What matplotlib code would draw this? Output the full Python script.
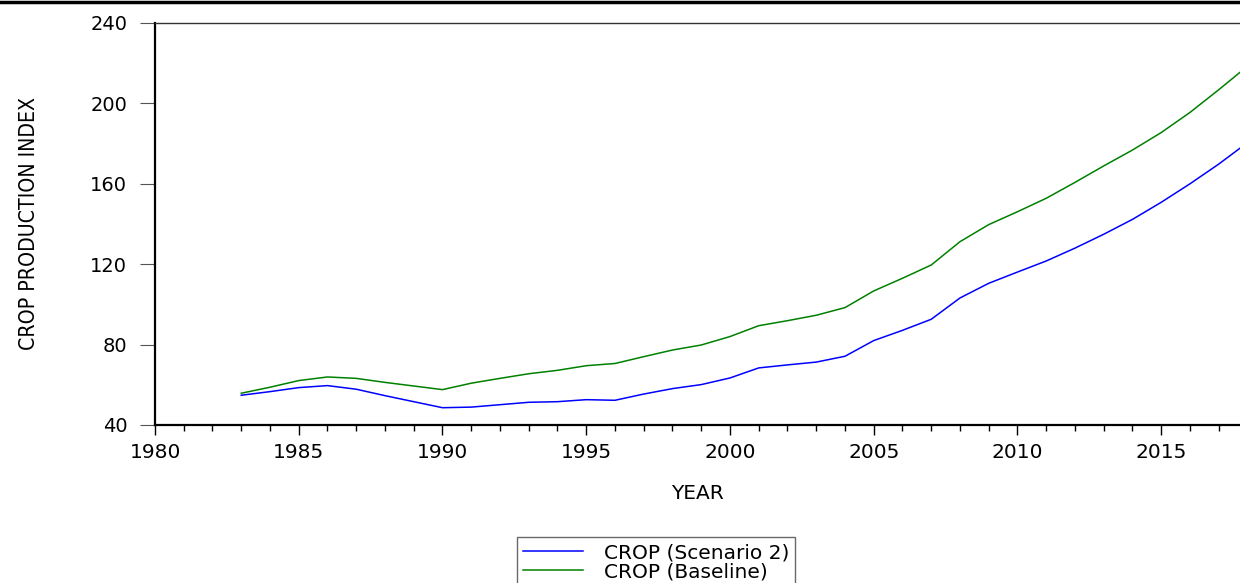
import matplotlib
matplotlib.use("Agg")
from matplotlib import pyplot as plt
from matplotlib.lines import Line2D
from matplotlib.ticker import MultipleLocator

years = list(range(1983, 2019))
scenario2 = [54.8, 56.6, 58.6, 59.6, 57.8, 54.6, 51.6, 48.6, 48.9, 50.1,
             51.3, 51.6, 52.6, 52.3, 55.4, 58.1, 60.1, 63.4, 68.4, 69.9,
             71.3, 74.2, 82.0, 87.1, 92.6, 103.2, 110.5, 116.1, 121.6, 128.0,
             134.9, 142.3, 150.8, 160.0, 169.8, 180.5]
baseline = [55.8, 58.8, 62.1, 63.9, 63.2, 61.2, 59.4, 57.6, 60.8, 63.2,
            65.5, 67.2, 69.5, 70.6, 74.0, 77.3, 79.8, 84.0, 89.4, 91.9,
            94.6, 98.4, 106.7, 113.0, 119.6, 131.2, 139.7, 146.1, 152.8, 160.7,
            168.9, 176.8, 185.5, 195.5, 206.8, 218.5]
labels = ["CROP (Scenario 2)", "CROP (Baseline)"]

plt.rcParams['font.family'] = ['DejaVu Sans']

fig = plt.figure(figsize=(12.4, 5.83), dpi=100)
ax = fig.add_axes([155 / 1240, 1 - 425 / 583, 1 - 155 / 1240, (425 - 23) / 583])

l1, = ax.plot(years, scenario2, color='#0000ff', lw=1.1)
l2, = ax.plot(years, baseline, color='#008000', lw=1.1)

ax.set_xlim(1980, 2017.74)
ax.set_ylim(40, 240)
ax.xaxis.set_major_locator(MultipleLocator(5))
ax.xaxis.set_minor_locator(MultipleLocator(1))
ax.yaxis.set_major_locator(MultipleLocator(40))

ax.spines['right'].set_visible(False)
ax.spines['left'].set_linewidth(1.6)
ax.spines['bottom'].set_linewidth(1.6)
ax.spines['top'].set_linewidth(1.0)
ax.spines['top'].set_color('#333333')

ax.tick_params(axis='y', direction='out', length=11, width=0.8, color='#555555',
               pad=9, labelsize=14)
ax.tick_params(axis='x', which='major', direction='out', length=7, width=1.0,
               pad=6, labelsize=14.5)
ax.tick_params(axis='x', which='minor', direction='out', length=4, width=1.0)

ax.set_xlabel("YEAR", fontsize=14.5, labelpad=16)
ax.set_ylabel("CROP PRODUCTION INDEX", fontsize=15.2, fontstretch='condensed')
ax.yaxis.set_label_coords(-0.107, 0.5)

# black border line at the very top of the image
fig.add_artist(Line2D([0, 1], [1 - 1.5 / 583, 1 - 1.5 / 583], color='black', lw=2.5,
                      transform=fig.transFigure))

leg = fig.legend([l1, l2], labels, loc='upper left',
                 bbox_to_anchor=(517 / 1240, 1 - 537 / 583), fontsize=14.5,
                 frameon=True, fancybox=False, edgecolor='#444444',
                 handlelength=3.0, borderpad=0.3, labelspacing=0.0,
                 handletextpad=1.0, borderaxespad=0)
leg.get_frame().set_linewidth(1.0)

fig.savefig("out.png", dpi=100)
